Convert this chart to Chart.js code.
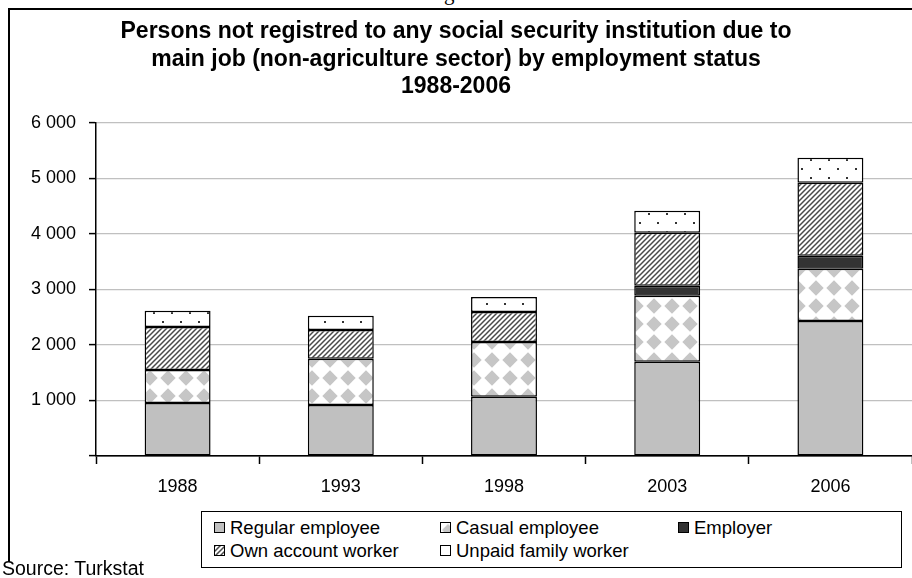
<!DOCTYPE html>
<html>
<head>
<meta charset="utf-8">
<script src="https://cdn.jsdelivr.net/npm/chart.js@4.4.1/dist/chart.umd.min.js"></script>
<style>
  body { margin: 0; background: #fff; font-family: "Liberation Sans", Arial, sans-serif; color: #000; }
  #wrap { position: relative; width: 912px; height: 578px; overflow: hidden; }
  #frame { position: absolute; left: 8px; top: 8px; width: 960px; height: 552px; border-left: 2px solid #000; border-top: 2px solid #000; }
  #cut { position: absolute; left: 444px; top: -17px; font: 21px/20px "Liberation Serif", serif; }
  #chart { position: absolute; left: 0; top: 0; }
  #legend { position: absolute; left: 201px; top: 511px; width: 699px; height: 55px; border: 1.5px solid #000; background: #fff; }
  #legend .item { position: absolute; font-size: 18.5px; line-height: 20px; white-space: nowrap; }
  #legend .sw { display: inline-block; width: 9px; height: 9px; border: 1px solid #000; margin-right: 5px; vertical-align: 1px; }
  #source { position: absolute; left: 2px; top: 558px; font-size: 19.5px; line-height: 20px; }
</style>
</head>
<body>
<div id="wrap">
  <div id="cut">g</div>
  <div id="frame"></div>
  <canvas id="chart" width="912" height="578"></canvas>
  <div id="legend"></div>
  <div id="source">Source: Turkstat</div>
</div>
<script>
const years = ['1988', '1993', '1998', '2003', '2006'];
const seriesNames = ['Regular employee', 'Casual employee', 'Employer', 'Own account worker', 'Unpaid family worker'];
const regular = [955, 920, 1065, 1695, 2430];
const casual = [595, 830, 990, 1190, 940];
const employer = [0, 0, 0, 180, 235];
const ownAccount = [775, 520, 540, 955, 1315];
const unpaid = [290, 255, 270, 395, 450];
const yTicks = [0, 1000, 2000, 3000, 4000, 5000, 6000];
const titleLines = [
    'Persons not registred to any social security institution due to',
    'main job (non-agriculture sector) by employment status',
    '1988-2006'
];

// small tiles used both as canvas patterns and as legend swatch backgrounds
function makeTile(kind) {
    const c = document.createElement('canvas');
    const g = c.getContext('2d');
    if (kind == 'solidGray' || kind == 'solidDark') {
        c.width = c.height = 4;
        g.fillStyle = kind == 'solidGray' ? '#c0c0c0' : '#333333';
        g.fillRect(0, 0, 4, 4);
    } else if (kind == 'diamond') {
        c.width = c.height = 18;
        g.fillStyle = '#fff'; g.fillRect(0, 0, 18, 18);
        g.fillStyle = '#c6c6c6';
        g.beginPath();
        g.moveTo(9, 1.3); g.lineTo(16.7, 9); g.lineTo(9, 16.7); g.lineTo(1.3, 9);
        g.closePath(); g.fill();
    } else if (kind == 'hatch') {
        c.width = c.height = 5;
        g.fillStyle = '#fff'; g.fillRect(0, 0, 5, 5);
        g.strokeStyle = '#4a4a4a'; g.lineWidth = 1.5;
        g.beginPath();
        g.moveTo(0, 5); g.lineTo(5, 0);
        g.moveTo(-1, 1); g.lineTo(1, -1);
        g.moveTo(4, 6); g.lineTo(6, 4);
        g.stroke();
    } else if (kind == 'dots') {
        c.width = c.height = 18;
        g.fillStyle = '#fff'; g.fillRect(0, 0, 18, 18);
        g.fillStyle = '#333';
        g.fillRect(9, 6, 2, 2);
        g.fillRect(0, 15, 2, 2);
    }
    return c;
}

const tileKinds = ['solidGray', 'diamond', 'solidDark', 'hatch', 'dots'];
const tiles = tileKinds.map(makeTile);
const ctx = document.getElementById('chart').getContext('2d');
const fills = tiles.map(t => ctx.createPattern(t, 'repeat'));
fills[1].setTransform(new DOMMatrix().translate(-3, -9));
const values = [regular, casual, employer, ownAccount, unpaid];

Chart.defaults.font.family = '"Liberation Sans", Arial, sans-serif';
Chart.defaults.color = '#000';

const chart = new Chart(ctx, {
    type: 'bar',
    data: {
        labels: years,
        datasets: seriesNames.map((name, i) => ({
            label: name,
            data: values[i],
            backgroundColor: fills[i],
            borderColor: '#000',
            borderWidth: 1.5,
            borderSkipped: false,
            barPercentage: 0.404,
            categoryPercentage: 1
        }))
    },
    options: {
        responsive: false,
        devicePixelRatio: 1,
        animation: false,
        layout: { padding: { left: 0, right: 0, top: 0, bottom: 0 } },
        plugins: {
            legend: { display: false },
            tooltip: { enabled: false },
            title: {
                display: true,
                text: titleLines,
                color: '#000',
                font: { size: 23, weight: 'bold', lineHeight: 1.2 },
                padding: { top: 18, bottom: 22 }
            }
        },
        scales: {
            x: {
                stacked: true,
                offset: true,
                afterFit: s => { s.height = 122; },
                border: { color: '#000', width: 1.5 },
                grid: { offset: true, drawOnChartArea: false, tickLength: 8, tickColor: '#000', tickWidth: 1.5 },
                ticks: { font: { size: 18 }, padding: 12, color: '#000' }
            },
            y: {
                stacked: true,
                min: 0,
                max: 6000,
                afterFit: s => { s.width = 96; },
                afterBuildTicks: s => { s.ticks = yTicks.map(v => ({ value: v })); },
                border: { color: '#000', width: 1.5 },
                grid: {
                    color: c => (c.tick && c.tick.value === 0) ? '#000' : '#c0c0c0',
                    lineWidth: 1.2,
                    tickLength: 7,
                    tickColor: '#000',
                    tickWidth: 1.5
                },
                ticks: {
                    font: { size: 18 },
                    padding: 13,
                    color: '#000',
                    callback: v => v === 0 ? '' : (v / 1000) + ' 000'
                }
            }
        }
    }
});

// legend: three columns, two rows, inside a framed box
const legend = document.getElementById('legend');
const colX = [12, 238, 476];
const rowY = [6, 29];
seriesNames.forEach((name, i) => {
    const item = document.createElement('div');
    item.className = 'item';
    item.style.left = colX[i % 3] + 'px';
    item.style.top = rowY[Math.floor(i / 3)] + 'px';
    const sw = document.createElement('span');
    sw.className = 'sw';
    sw.style.backgroundImage = 'url(' + tiles[i].toDataURL() + ')';
    sw.style.backgroundSize = (i == 1 ? 14 : tiles[i].width) + 'px';
    item.appendChild(sw);
    item.appendChild(document.createTextNode(name));
    legend.appendChild(item);
});
</script>
</body>
</html>
